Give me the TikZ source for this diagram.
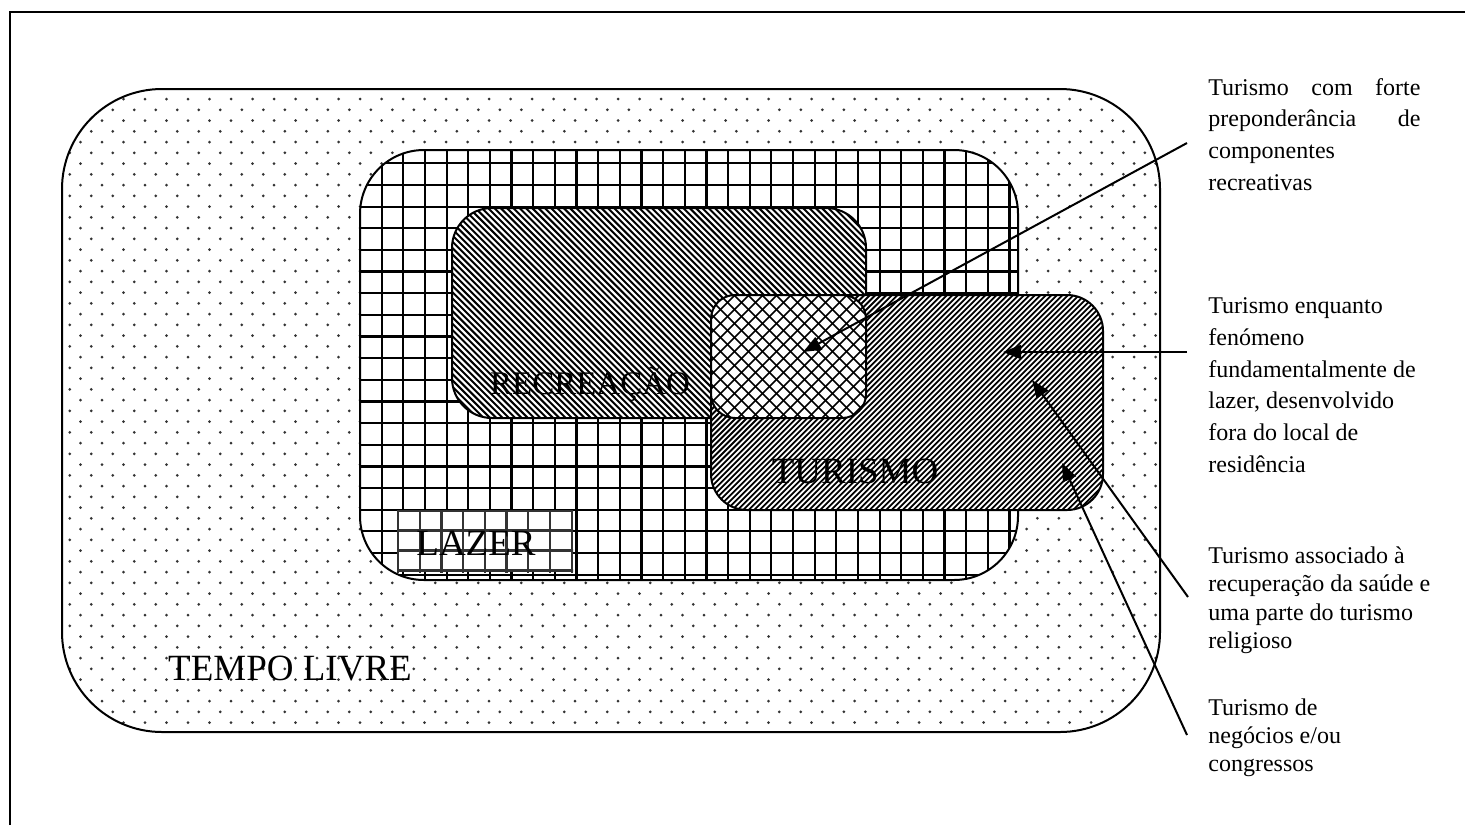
\documentclass[tikz,border=0pt]{standalone}
\usepackage{fontspec}
\setmainfont{Liberation Serif}
\usetikzlibrary{arrows.meta}
\begin{document}
\begin{tikzpicture}[x=0.5pt,y=-0.5pt,
  frameline/.style={line width=1pt,black},
  outline/.style={line width=1pt,black},
  dotc/.style={black!80},
  gridline/.style={line width=1.1pt,black},
  hatchline/.style={line width=1pt,black},
  crossline/.style={line width=0.8pt,black},
  biglabel/.style={font=\fontsize{18.5}{22}\selectfont,inner sep=0pt,anchor=base},
  sidetext/.style={font=\fontsize{12}{16}\selectfont,inner sep=0pt,anchor=base west},
  pointer/.style={line width=1pt,-{Triangle[length=9pt,width=7pt]}}]
\useasboundingbox (0,0) rectangle (1465,825);
% frame
\draw[frameline] (10,825) -- (10,12) -- (1465,12);
% TEMPO LIVRE region
\fill[white,rounded corners=50pt] (62,89) rectangle (1160,732);
\begin{scope}
\clip[rounded corners=50pt] (62,89) rectangle (1160,732);
\foreach \r in {0,...,60}{
  \pgfmathsetmacro{\yy}{88.25+\r*10.75}
  \pgfmathsetmacro{\xs}{mod(\r,2)==1 ? 59 : 48.25}
  \foreach \c in {0,...,52}{
    \fill[dotc] ({\xs+\c*21.5},\yy) circle[radius=0.75pt];
  }
}
\end{scope}
\draw[outline,rounded corners=50pt] (62,89) rectangle (1160,732);
% LAZER region
\fill[white,rounded corners=32pt] (360,150) rectangle (1018,580);
\begin{scope}
\clip[rounded corners=32pt] (360,150) rectangle (1018,580);
\foreach \k in {0,...,31}{
  \draw[gridline] ({360+\k*21.65},140) -- ++(0,450);
}
\foreach \k in {0,...,21}{
  \draw[gridline] (350,{141.65+\k*21.65}) -- ++(680,0);
}
\end{scope}
\draw[outline,rounded corners=32pt] (360,150) rectangle (1018,580);
% RECREACAO region
\fill[white,rounded corners=20pt] (452,208) rectangle (866,418);
\begin{scope}
\clip[rounded corners=20pt] (452,208) rectangle (866,418);
\foreach \k in {0,...,102}{
  \draw[hatchline] ({228+\k*6.3},200) -- ++(230,230);
}
\end{scope}
\draw[outline,rounded corners=20pt] (452,208) rectangle (866,418);
% TURISMO region
\fill[white,rounded corners=18pt] (711,295) rectangle (1103,510);
\begin{scope}
\clip[rounded corners=18pt] (711,295) rectangle (1103,510);
\foreach \k in {0,...,115}{
  \draw[hatchline,line width=0.9pt] ({710+\k*5.5},290) -- ++(-230,230);
}
\end{scope}
\draw[outline,rounded corners=18pt] (711,295) rectangle (1103,510);
% overlap region (crosshatch)
\fill[white,rounded corners=12pt] (711,295) rectangle (866,418);
\begin{scope}
\clip[rounded corners=12pt] (711,295) rectangle (866,418);
\foreach \k in {0,...,24}{
  \draw[crossline] ({575+\k*14},290) -- ++(140,140);
  \draw[crossline] ({712+\k*14},290) -- ++(-140,140);
}
\end{scope}
\draw[outline,rounded corners=12pt] (711,295) rectangle (866,418);
% LAZER label box
\fill[white] (397,510) rectangle (573,572);
\begin{scope}
\clip (397,510) rectangle (573,572);
\foreach \k in {0,...,8}{
  \draw[gridline,black!80] ({398+\k*21.7},505) -- ++(0,75);
}
\foreach \k in {0,...,3}{
  \draw[gridline,black!80] (390,{510.5+\k*20}) -- ++(190,0);
}
\end{scope}
% labels
\node[biglabel,font=\fontsize{16.5}{20}\selectfont] (recreacao) at (590,394) {RECREAÇÃO};
\node[biglabel] (turismo) at (855,483) {TURISMO};
\node[biglabel] (lazer) at (476,555) {LAZER};
\node[biglabel] (tempolivre) at (290,680) {TEMPO LIVRE};
% side texts
\node[sidetext] (a1) at (1208,95) {\makebox[106pt][s]{Turismo com forte}};
\node[sidetext] (a2) at (1208,126.7) {\makebox[106pt][s]{preponderância de}};
\node[sidetext] (a3) at (1208,158.4) {componentes};
\node[sidetext] (a4) at (1208,190) {recreativas};
\node[sidetext] (b1) at (1208,313) {Turismo enquanto};
\node[sidetext] (b2) at (1208,345) {fenómeno};
\node[sidetext] (b3) at (1208,377) {fundamentalmente de};
\node[sidetext] (b4) at (1208,408.5) {lazer, desenvolvido};
\node[sidetext] (b5) at (1208,440.3) {fora do local de};
\node[sidetext] (b6) at (1208,472) {residência};
\node[sidetext] (c1) at (1208,563) {Turismo associado à};
\node[sidetext] (c2) at (1208,591.5) {recuperação da saúde e};
\node[sidetext] (c3) at (1208,620) {uma parte do turismo};
\node[sidetext] (c4) at (1208,648.5) {religioso};
\node[sidetext] (d1) at (1208,715) {Turismo de};
\node[sidetext] (d2) at (1208,743) {negócios e/ou};
\node[sidetext] (d3) at (1208,771) {congressos};
% arrows
\coordinate (s1) at (1187,143);
\coordinate (t1) at (803,352);
\coordinate (s2) at (1187,352);
\coordinate (t2) at (1003,352);
\coordinate (s3) at (1188,597);
\coordinate (t3) at (1032,380);
\coordinate (s4) at (1187,735);
\coordinate (t4) at (1062,463);
\draw[pointer] (s1) -- (t1);
\draw[pointer] (s2) -- (t2);
\draw[pointer] (s3) -- (t3);
\draw[pointer] (s4) -- (t4);
\end{tikzpicture}
\end{document}
